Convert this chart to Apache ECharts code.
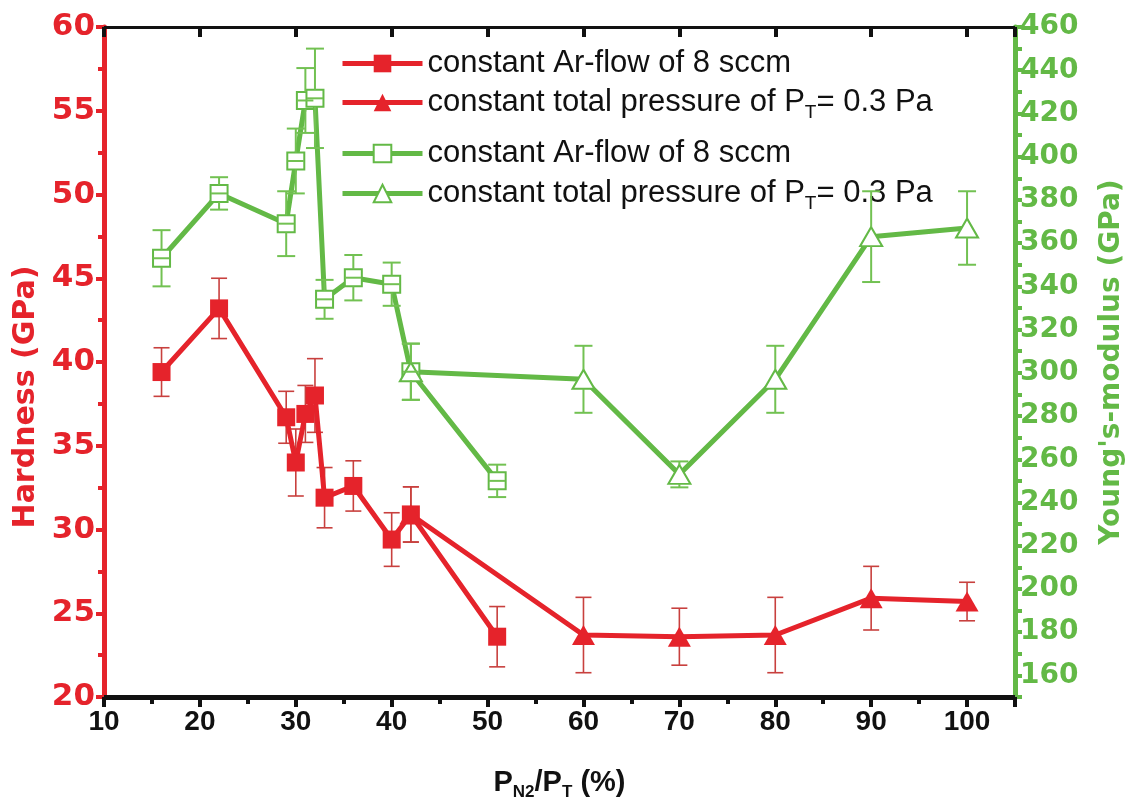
<!DOCTYPE html>
<html><head><meta charset="utf-8">
<script src="https://cdn.jsdelivr.net/npm/echarts@6/dist/echarts.min.js"></script>
<style>html,body{margin:0;padding:0;background:#fff}#c{width:1137px;height:811px}</style>
</head><body><div id="c"></div>
<script>
// ---- data ----
const xAr = [16, 22, 29, 30, 31, 32, 33, 36, 40, 42, 51];
const hardAr = [39.4, 43.2, 36.7, 34.0, 36.9, 38.0, 31.9, 32.6, 29.4, 30.9, 23.6];
const hardArErr = [1.45, 1.8, 1.55, 2.0, 1.7, 2.2, 1.8, 1.5, 1.6, 1.65, 1.8];
const xPt = [42, 60, 70, 80, 90, 100];
const hardPt = [30.9, 23.7, 23.6, 23.7, 25.9, 25.7];
const hardPtErr = [1.65, 2.25, 1.7, 2.25, 1.9, 1.15];
const modAr = [353, 383, 369, 398, 426, 427, 334, 344, 341, 300.5, 250];
const modArErr = [13, 7.5, 15, 15, 15, 23, 9, 10.5, 10, 13, 7.5];
const modPt = [300.5, 297, 253, 297, 363, 367];
const modPtErr = [13, 15.5, 6, 15.5, 21, 17];
const xTicks = [10, 20, 30, 40, 50, 60, 70, 80, 90, 100];
const hardTicks = [20, 25, 30, 35, 40, 45, 50, 55, 60];
const modTicks = [160, 180, 200, 220, 240, 260, 280, 300, 320, 340, 360, 380, 400, 420, 440, 460];

const RED = '#e5232b', GREEN = '#63b946', ERR_RED = '#c8403e', ERR_GREEN = '#72c152';

function pairs(xs, ys) { return xs.map((x, i) => [x, ys[i]]); }
function triples(xs, ys, es) { return xs.map((x, i) => [x, ys[i], es[i]]); }

function errRender(color, lw, capHalf, gapHalf, midHalf) {
  return function (params, api) {
    const x = api.value(0), y = api.value(1), e = api.value(2);
    const c = api.coord([x, y]);
    const t = api.coord([x, y + e]);
    const b = api.coord([x, y - e]);
    const st = { stroke: color, lineWidth: lw, fill: null };
    const ch = [];
    if (gapHalf) {
      ch.push({ type: 'line', shape: { x1: c[0], y1: t[1], x2: c[0], y2: c[1] - gapHalf }, style: st });
      ch.push({ type: 'line', shape: { x1: c[0], y1: c[1] + gapHalf, x2: c[0], y2: b[1] }, style: st });
    } else {
      ch.push({ type: 'line', shape: { x1: c[0], y1: t[1], x2: c[0], y2: b[1] }, style: st });
    }
    ch.push({ type: 'line', shape: { x1: c[0] - capHalf, y1: t[1], x2: c[0] + capHalf, y2: t[1] }, style: st });
    ch.push({ type: 'line', shape: { x1: c[0] - capHalf, y1: b[1], x2: c[0] + capHalf, y2: b[1] }, style: st });
    if (midHalf) {
      ch.push({ type: 'line', shape: { x1: c[0] - midHalf, y1: c[1], x2: c[0] + midHalf, y2: c[1] }, style: { stroke: color, lineWidth: 2 } });
    }
    return { type: 'group', children: ch };
  };
}

const chart = echarts.init(document.getElementById('c'), null, { renderer: 'canvas' });

const legTxt = { fontSize: 31, fontFamily: 'Liberation Sans, Arial, sans-serif', color: '#111',
  rich: {
    a: { fontSize: 31, fontFamily: 'Liberation Sans, Arial, sans-serif', color: '#111', lineHeight: 40 },
    s: { fontSize: 19, fontFamily: 'Liberation Sans, Arial, sans-serif', color: '#111', lineHeight: 16, verticalAlign: 'bottom' }
  } };
function legend(name, top, fmt) {
  return { data: [name], left: 335, top: top, itemWidth: 80, itemHeight: 22, itemGap: 0,
    selectedMode: false, textStyle: legTxt, formatter: fmt,
    lineStyle: { width: 5 } };
}
const fmtAr = () => '{a|constant Ar-flow of 8 sccm}';
const fmtPt = () => '{a|constant total pressure of P}{s|T}{a|= 0.3 Pa}';

const option = {
  backgroundColor: '#fff',
  animation: false,
  grid: { left: 104, right: 122, top: 27, bottom: 114, containLabel: false },
  legend: [
    legend('H_Ar', 43, fmtAr),
    legend('H_PT', 82, fmtPt),
    legend('E_Ar', 133, fmtAr),
    legend('E_PT', 173, fmtPt)
  ],
  xAxis: [{
    type: 'value', min: 10, max: 105, interval: 10, position: 'bottom',
    axisLine: { show: true, onZero: false, lineStyle: { color: '#111', width: 5 } },
    axisTick: { show: true, inside: false, length: 10, lineStyle: { color: '#111', width: 4 } },
    minorTick: { show: true, splitNumber: 2, length: 7, lineStyle: { color: '#111', width: 4 } },
    splitLine: { show: false },
    axisLabel: { margin: 11, color: '#111', fontSize: 28, fontWeight: 'bold',
      fontFamily: 'Liberation Sans Narrow, Arial Narrow, Liberation Sans, sans-serif',
      formatter: v => (xTicks.indexOf(v) >= 0 ? String(v) : '') },
    name: '{a|P}{s|N2}{a|/P}{s|T}{a| (%)}', nameLocation: 'middle', nameGap: 68,
    nameTextStyle: { rich: {
      a: { fontSize: 29, fontWeight: 'bold', fontFamily: 'Liberation Sans Narrow, Liberation Sans, sans-serif', color: '#111', lineHeight: 36 },
      s: { fontSize: 17, fontWeight: 'bold', fontFamily: 'Liberation Sans Narrow, Liberation Sans, sans-serif', color: '#111', lineHeight: 14, verticalAlign: 'bottom' } } }
  }, {
    type: 'value', min: 10, max: 105, interval: 10, position: 'top',
    axisLine: { show: true, onZero: false, lineStyle: { color: '#111', width: 3 } },
    axisTick: { show: true, inside: true, length: 10, lineStyle: { color: '#111', width: 4 } },
    axisLabel: { show: false }, splitLine: { show: false }
  }],
  yAxis: [{
    type: 'value', min: 20, max: 60, interval: 5, position: 'left',
    axisLine: { show: true, onZero: false, lineStyle: { color: RED, width: 5 } },
    axisTick: { show: true, length: 8, lineStyle: { color: RED, width: 4 } },
    minorTick: { show: true, splitNumber: 2, length: 6, lineStyle: { color: RED, width: 4 } },
    splitLine: { show: false },
    axisLabel: { margin: 9, color: RED, fontSize: 31, fontWeight: 'bold', fontFamily: 'DejaVu Sans, sans-serif',
      formatter: v => (hardTicks.indexOf(v) >= 0 ? String(v) : '') },
    name: 'Hardness (GPa)', nameLocation: 'middle', nameGap: 59, nameRotate: 90,
    nameTextStyle: { color: RED, fontSize: 30, fontWeight: 'bold', fontFamily: 'DejaVu Sans, sans-serif',
      padding: [0, 70, 0, 0] }
  }, {
    type: 'value', min: 150, max: 460, interval: 10, position: 'right',
    axisLine: { show: true, onZero: false, lineStyle: { color: GREEN, width: 5 } },
    axisTick: { show: true, length: 7, lineStyle: { color: GREEN, width: 4 } },
    splitLine: { show: false },
    axisLabel: { margin: 5, color: GREEN, fontSize: 28, fontWeight: 'bold', fontFamily: 'DejaVu Sans, sans-serif',
      formatter: v => (modTicks.indexOf(v) >= 0 ? String(v) : '') },
    name: "Young's-modulus (GPa)", nameLocation: 'middle', nameGap: 83, nameRotate: 90,
    nameTextStyle: { color: GREEN, fontSize: 28, fontWeight: 'bold', fontFamily: 'DejaVu Sans, sans-serif' }
  }],
  series: [
    { type: 'custom', name: 'errHAr', yAxisIndex: 0, z: 1, silent: true,
      renderItem: errRender(ERR_RED, 1.6, 8, 0, 0), data: triples(xAr, hardAr, hardArErr), encode: { x: 0, y: 1 } },
    { type: 'custom', name: 'errHPt', yAxisIndex: 0, z: 1, silent: true,
      renderItem: errRender(ERR_RED, 1.6, 8, 0, 0), data: triples(xPt, hardPt, hardPtErr), encode: { x: 0, y: 1 } },
    { type: 'line', name: 'H_Ar', yAxisIndex: 0, z: 3, data: pairs(xAr, hardAr),
      symbol: 'rect', symbolSize: 18, color: RED, itemStyle: { color: RED },
      lineStyle: { color: RED, width: 5 } },
    { type: 'line', name: 'H_PT', yAxisIndex: 0, z: 3, data: pairs(xPt, hardPt),
      symbol: 'triangle', symbolSize: [23, 20], color: RED, itemStyle: { color: RED },
      lineStyle: { color: RED, width: 5 } },
    { type: 'line', name: 'E_Ar', yAxisIndex: 1, z: 3, data: pairs(xAr, modAr),
      symbol: 'rect', symbolSize: 17, color: GREEN, itemStyle: { color: '#fff', borderColor: GREEN, borderWidth: 2 },
      lineStyle: { color: GREEN, width: 5 } },
    { type: 'line', name: 'E_PT', yAxisIndex: 1, z: 3, data: pairs(xPt, modPt),
      symbol: 'triangle', symbolSize: [22, 19], color: GREEN, itemStyle: { color: '#fff', borderColor: GREEN, borderWidth: 2 },
      lineStyle: { color: GREEN, width: 5 } },
    { type: 'custom', name: 'errEAr', yAxisIndex: 1, z: 5, silent: true,
      renderItem: errRender(ERR_GREEN, 2, 9, 8.5, 8), data: triples(xAr, modAr, modArErr), encode: { x: 0, y: 1 } },
    { type: 'custom', name: 'errEPt', yAxisIndex: 1, z: 5, silent: true,
      renderItem: errRender(ERR_GREEN, 2, 9, 9.5, 0), data: triples(xPt, modPt, modPtErr), encode: { x: 0, y: 1 } }
  ]
};
chart.setOption(option);
</script>
</body></html>
